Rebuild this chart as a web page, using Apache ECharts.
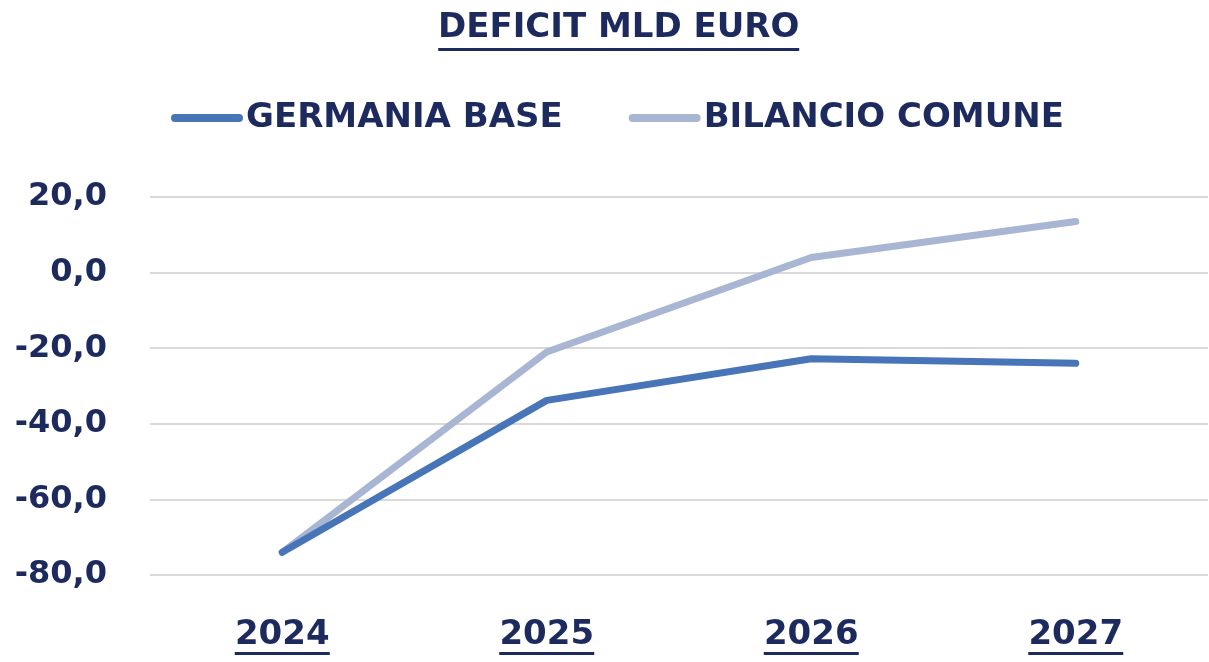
<!DOCTYPE html>
<html>
<head>
<meta charset="utf-8">
<script src="https://cdn.jsdelivr.net/npm/echarts@6/dist/echarts.min.js"></script>
<style>
  html, body { margin: 0; padding: 0; background: #ffffff; }
  #chart { width: 1209px; height: 662px; }
</style>
</head>
<body>
<div id="chart"></div>
<script>
// Deficit in billions of euro, 2024-2027
const years = ['2024', '2025', '2026', '2027'];
const germaniaBase = [-74.0, -33.8, -22.8, -24.0];
const bilancioComune = [-74.0, -21.0, 4.0, 13.5];
const yTicks = { min: -80, max: 20, interval: 20 };

const INK = '#1c2a5e';
const FONT = '"DejaVu Sans", "Open Sans", sans-serif';

// measure text so the underline bars span exactly the label width
const measureCtx = document.createElement('canvas').getContext('2d');
function textWidth(str, size) {
  measureCtx.font = 'bold ' + size + 'px ' + FONT;
  return Math.round(measureCtx.measureText(str).width);
}

const titleText = 'DEFICIT MLD EURO';
const titleSize = 34;
const xSize = 34;
const xUnderline = textWidth('2024', xSize);

const chart = echarts.init(document.getElementById('chart'), null, { renderer: 'canvas' });

chart.setOption({
  backgroundColor: '#ffffff',
  animation: false,
  title: {
    text: '{t|' + titleText + '}\n{u|}',
    left: 438,
    top: 8,
    padding: 0,
    textStyle: {
      rich: {
        t: { fontFamily: FONT, fontWeight: 'bold', fontSize: titleSize, color: INK, lineHeight: 40, align: 'center' },
        u: { width: textWidth(titleText, titleSize), height: 3, backgroundColor: INK, align: 'center' }
      }
    }
  },
  legend: {
    top: 96,
    left: 166,
    itemGap: 66,
    itemWidth: 72,
    itemHeight: 8,
    icon: 'path://M4,0 H68 A4,4 0 0 1 68,8 H4 A4,4 0 0 1 4,0 Z',
    textStyle: { fontFamily: FONT, fontWeight: 'bold', fontSize: 34, color: INK, padding: [0, 0, 0, -2] },
    data: ['GERMANIA BASE', 'BILANCIO COMUNE']
  },
  grid: { left: 150, right: 1, top: 197, bottom: 87, containLabel: false },
  xAxis: {
    type: 'category',
    data: years,
    boundaryGap: true,
    axisLine: { show: false },
    axisTick: { show: false },
    axisLabel: {
      margin: 43,
      formatter: v => '{y|' + v + '}\n{u|}',
      rich: {
        y: { fontFamily: FONT, fontWeight: 'bold', fontSize: xSize, color: INK, lineHeight: 34, align: 'center' },
        u: { width: xUnderline, height: 3, backgroundColor: INK, align: 'center' }
      }
    }
  },
  yAxis: {
    type: 'value',
    min: yTicks.min,
    max: yTicks.max,
    interval: yTicks.interval,
    axisLine: { show: false },
    axisTick: { show: false },
    splitLine: { lineStyle: { color: '#d9d9d9', width: 2 } },
    axisLabel: {
      margin: 43,
      fontFamily: FONT,
      fontWeight: 'bold',
      fontSize: 32,
      color: INK,
      formatter: v => v.toFixed(1).replace('.', ',')
    }
  },
  series: [
    {
      name: 'GERMANIA BASE',
      type: 'line',
      data: germaniaBase,
      symbol: 'none',
      z: 3,
      itemStyle: { color: '#4775b8' },
      lineStyle: { color: '#4775b8', width: 7, cap: 'round', join: 'round' }
    },
    {
      name: 'BILANCIO COMUNE',
      type: 'line',
      data: bilancioComune,
      symbol: 'none',
      z: 2,
      itemStyle: { color: '#a8b5d3' },
      lineStyle: { color: '#a8b5d3', width: 7, cap: 'round', join: 'round' }
    }
  ]
});
</script>
</body>
</html>
